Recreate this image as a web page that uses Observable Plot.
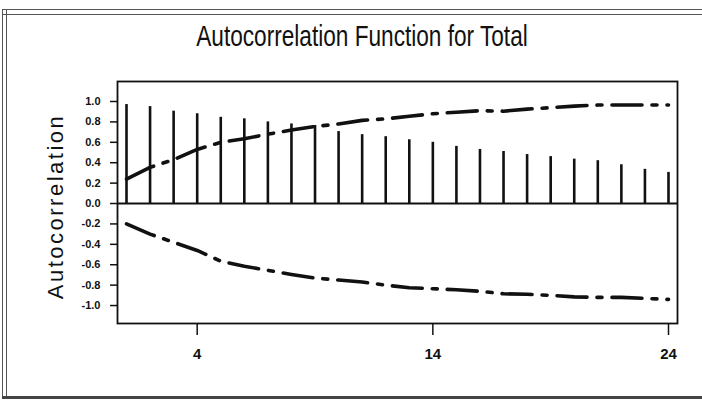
<!DOCTYPE html>
<html><head><meta charset="utf-8">
<script src="https://cdn.jsdelivr.net/npm/d3@7"></script>
<script src="https://cdn.jsdelivr.net/npm/@observablehq/plot@0.6"></script>
<style>
html,body{margin:0;padding:0;background:#fff;}
#wrap{position:relative;width:702px;height:401px;overflow:hidden;background:#fff;}
#chart{position:absolute;left:0;top:0;}
#bl{position:absolute;left:2px;top:9px;width:5px;height:390px;border-left:1.5px solid #555;border-right:1.5px solid #555;box-sizing:border-box;}
#bt{position:absolute;left:2px;top:9px;width:720px;height:6px;border-top:1.5px solid #555;border-bottom:1.5px solid #555;box-sizing:border-box;}
#bb{position:absolute;left:2px;top:396px;width:720px;height:3px;background:#444;}
#title{position:absolute;left:0;width:724px;top:22px;text-align:center;font-family:"Liberation Sans",Arial,sans-serif;font-size:29px;line-height:29px;color:#111;white-space:nowrap;transform:scaleX(0.78);transform-origin:362px 0;}
</style>
</head><body>
<div id="wrap">
<div id="chart"></div>
<div id="bl"></div><div id="bt"></div><div id="bb"></div>
<div id="title">Autocorrelation Function for Total</div>
</div>
<script>
const titleText = "Autocorrelation Function for Total";
const yLabel = "Autocorrelation";
const lags = [1,2,3,4,5,6,7,8,9,10,11,12,13,14,15,16,17,18,19,20,21,22,23,24];
const acf = [0.97,0.95,0.905,0.88,0.845,0.83,0.80,0.78,0.765,0.705,0.675,0.655,0.625,0.60,0.56,0.53,0.51,0.48,0.46,0.435,0.42,0.38,0.335,0.305];
const upper = [0.24,0.355,0.43,0.53,0.60,0.635,0.68,0.72,0.755,0.78,0.815,0.83,0.855,0.88,0.895,0.91,0.905,0.925,0.94,0.955,0.965,0.965,0.965,0.965];
const lower = [-0.20,-0.30,-0.38,-0.46,-0.565,-0.615,-0.655,-0.695,-0.73,-0.75,-0.77,-0.80,-0.825,-0.835,-0.845,-0.86,-0.885,-0.89,-0.90,-0.915,-0.92,-0.92,-0.93,-0.94];
const xTicks = [4,14,24];
const yTicks = [-1,-0.8,-0.6,-0.4,-0.2,0,0.2,0.4,0.6,0.8,1.0];

const bars = lags.map((l,i)=>({lag:l, r:acf[i]}));
const up = lags.map((l,i)=>({lag:l, v:upper[i]}));
const lo = lags.map((l,i)=>({lag:l, v:lower[i]}));

const ink = "#111";
const plot = Plot.plot({
  width: 702, height: 401,
  marginLeft: 117, marginRight: 25, marginTop: 81, marginBottom: 78,
  style: {background: "transparent", color: ink, overflow: "visible"},
  x: {domain: [0.618, 24.382], axis: null},
  y: {domain: [-1.176, 1.196], axis: null},
  marks: [
    Plot.ruleY([0], {stroke: ink, strokeWidth: 2}),
    Plot.ruleX(bars, {x: "lag", y1: 0, y2: "r", stroke: ink, strokeWidth: 2.6}),
    Plot.line(up, {x: "lag", y: "v", stroke: ink, strokeWidth: 3.6, strokeDasharray: "30,10,5,10"}),
    Plot.line(lo, {x: "lag", y: "v", stroke: ink, strokeWidth: 3.6, strokeDasharray: "30,10,5,10"}),
    Plot.frame({stroke: ink, strokeWidth: 1.8}),
    Plot.axisY({ticks: yTicks, tickSize: 7, tickPadding: 10, tickFormat: d => d.toFixed(1), label: null,
      fontSize: 11, fontWeight: "bold", fontFamily: "Liberation Sans, Arial, sans-serif", strokeWidth: 1.5}),
    Plot.axisX({ticks: xTicks, tickSize: 12, tickPadding: 13, tickFormat: d => String(d), label: null,
      fontSize: 15, fontWeight: "bold", fontFamily: "Liberation Sans, Arial, sans-serif", strokeWidth: 1.5}),
    Plot.text([yLabel], {frameAnchor: "left", textAnchor: "middle", text: d => d, rotate: -90, dx: -62, dy: 4,
      fontSize: 22, fontFamily: "Liberation Sans, Arial, sans-serif", fill: ink})
  ]
});
d3.select(plot).selectAll("text").filter(function(){ return this.textContent === yLabel; })
  .style("letter-spacing", "2.5px");
document.getElementById("chart").appendChild(plot);
</script>
</body></html>
